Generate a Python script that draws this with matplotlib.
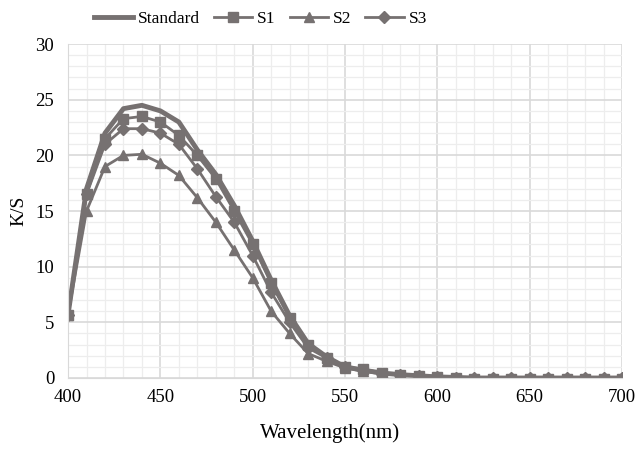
import numpy as np
import matplotlib.pyplot as plt
from matplotlib.ticker import MultipleLocator

plt.rcParams['font.family'] = ['Liberation Serif', 'DejaVu Serif']

wavelength = list(range(400, 701, 10))
standard = [5.7, 17.0, 22.0, 24.2, 24.5, 24.0, 23.0, 20.5, 18.3, 15.5, 12.3, 8.8, 5.6, 3.1, 1.9, 1.0,
            0.7, 0.45, 0.3, 0.2, 0.1, 0.05, 0.0, 0.0, 0.0, 0.0, 0.0, 0.0, 0.0, 0.0, 0.0]
s1 = [5.7, 16.5, 21.5, 23.3, 23.5, 23.0, 21.8, 20.0, 17.9, 15.0, 12.0, 8.5, 5.4, 3.0, 1.8, 1.0,
      0.8, 0.45, 0.3, 0.2, 0.1, 0.0, -0.1, -0.1, -0.1, -0.1, -0.1, -0.1, -0.1, -0.1, -0.1]
s2 = [5.7, 15.0, 19.0, 20.0, 20.1, 19.3, 18.2, 16.2, 14.0, 11.5, 9.0, 6.0, 4.0, 2.2, 1.5, 0.9,
      0.6, 0.35, 0.3, 0.2, 0.1, 0.0, 0.0, 0.0, 0.0, 0.0, 0.0, 0.0, 0.0, 0.0, 0.0]
s3 = [5.7, 16.5, 21.0, 22.4, 22.4, 22.0, 21.0, 18.8, 16.3, 14.0, 11.0, 7.7, 5.0, 2.7, 1.8, 1.0,
      0.7, 0.4, 0.3, 0.2, 0.1, 0.0, 0.0, 0.0, 0.0, 0.0, 0.0, 0.0, 0.0, 0.0, 0.0]

color = '#767171'

fig = plt.figure(figsize=(6.36, 4.5), dpi=100)
ax = fig.add_axes([0.107, 0.16, 0.871, 0.742])

ax.plot(wavelength, standard, color=color, lw=3.5, label='Standard')
ax.plot(wavelength, s1, color=color, lw=2, marker='s', ms=7, label='S1')
ax.plot(wavelength, s2, color=color, lw=2, marker='^', ms=7, label='S2')
ax.plot(wavelength, s3, color=color, lw=2, marker='D', ms=6, label='S3')

ax.set_xlim(400, 700)
ax.set_ylim(0, 30)
ax.xaxis.set_major_locator(MultipleLocator(50))
ax.xaxis.set_minor_locator(MultipleLocator(10))
ax.yaxis.set_major_locator(MultipleLocator(5))
ax.yaxis.set_minor_locator(MultipleLocator(1))
ax.grid(which='major', color='#d9d9d9', lw=1.2)
ax.grid(which='minor', color='#ededed', lw=0.9)
ax.set_axisbelow(True)
ax.tick_params(which='both', length=0, labelsize=13.5)
ax.tick_params(axis='y', pad=10)
ax.tick_params(axis='x', pad=8)
for s in ['top', 'right']:
    ax.spines[s].set_visible(False)
for s in ['left', 'bottom']:
    ax.spines[s].set_color('#d9d9d9')

ax.set_xlabel('Wavelength(nm)', fontsize=15, labelpad=11)
ax.xaxis.set_label_coords(0.473, -0.135)
ax.set_ylabel('K/S', fontsize=14, labelpad=6)

fig.legend(loc='upper center', bbox_to_anchor=(0.41, 1.01), ncol=4, frameon=False,
           fontsize=12.5, handlelength=2.2, columnspacing=0.8, handletextpad=0.3)

plt.savefig('out.png', dpi=100)
